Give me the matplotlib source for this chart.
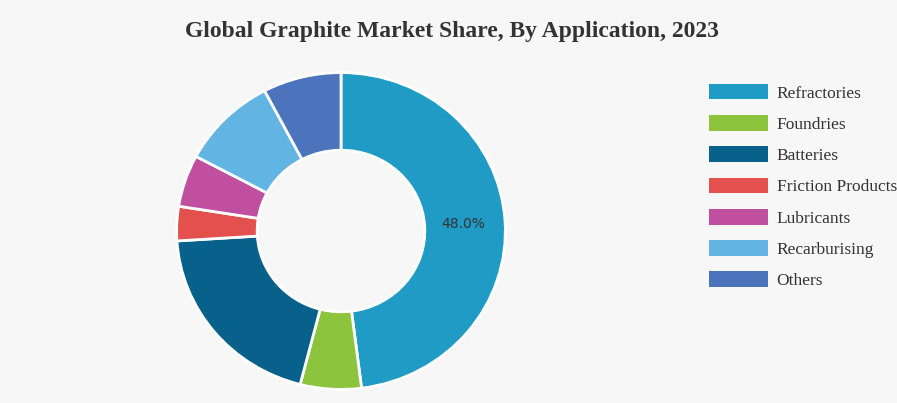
import matplotlib.pyplot as plt
from matplotlib.patches import Patch

labels = ['Refractories', 'Foundries', 'Batteries', 'Friction Products',
          'Lubricants', 'Recarburising', 'Others']
shares = [48.0, 6.0, 20.0, 3.5, 5.3, 9.5, 7.7]
colors = ['#1f9bc5', '#8cc43e', '#07618a', '#e4504e', '#c04f9f', '#62b4e3', '#4b74bc']

bg = '#f7f7f7'
fig = plt.figure(figsize=(8.97, 4.03), dpi=100, facecolor=bg)

ax = fig.add_axes([175 / 897, 12 / 403, 332 / 897, 320 / 403])
ax.set_facecolor(bg)
wedges, texts, autotexts = ax.pie(
    shares, colors=colors, startangle=90, counterclock=False, radius=1,
    wedgeprops=dict(width=0.49, edgecolor='white', linewidth=2),
    autopct=lambda p: f'{p:.1f}%' if p > 40 else '', pctdistance=0.745,
    textprops=dict(color='#333333', fontsize=10, family='DejaVu Sans'))
ax.set_aspect('auto')
ax.set_xlim(-1.01, 1.01)
ax.set_ylim(-1.01, 1.01)
ax.axis('off')

fig.text(452 / 897, 1 - 32 / 403, 'Global Graphite Market Share, By Application, 2023',
         ha='center', va='center', fontsize=17, fontweight='bold',
         family='Liberation Serif', color='#333333')

handles = [Patch(facecolor=c, edgecolor='none') for c in colors]
leg = fig.legend(handles, labels, loc='upper left',
                 bbox_to_anchor=(702 / 897, 1 - 77 / 403), frameon=False,
                 prop=dict(family='Liberation Serif', size=12.5),
                 handlelength=3.4, handleheight=1.0, labelspacing=0.78,
                 handletextpad=0.5, borderaxespad=0)
for t in leg.get_texts():
    t.set_color('#333333')

plt.savefig('out.png', dpi=100, facecolor=bg)
